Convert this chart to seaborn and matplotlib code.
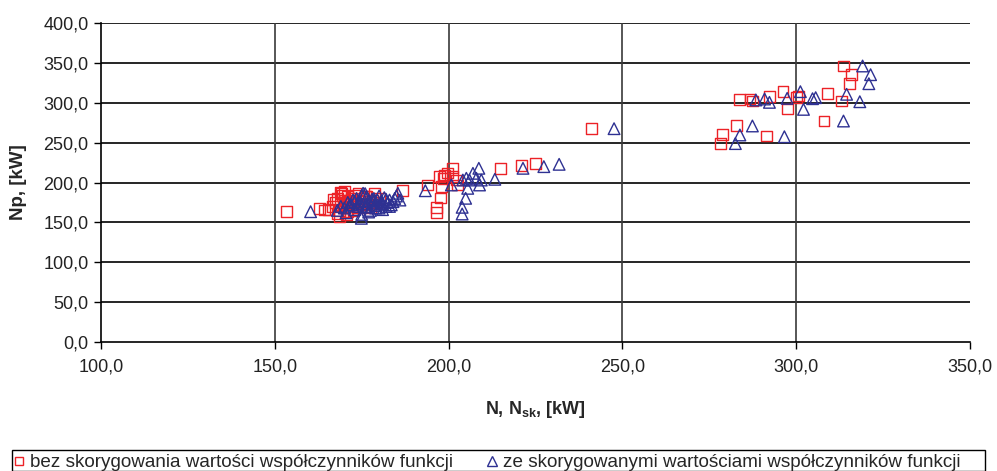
import numpy as np
import pandas as pd
import matplotlib
matplotlib.use("Agg")
import matplotlib.pyplot as plt
from matplotlib.lines import Line2D
from matplotlib.patches import Rectangle
import seaborn as sns

# ---- data: red squares (bez skorygowania) ----
red_x = [153.4, 162.9, 164.4, 165.3, 166.8, 168.7, 169.2, 170.1, 178.7, 186.7,
         166.5, 167.5, 168, 168.5, 169, 169.5, 170, 170, 170.5, 171, 171, 171.5,
         172, 172, 172.5, 173, 173, 173.5, 174, 174.5, 175, 175.5, 176, 176.5,
         177, 178, 179, 180, 168, 170.5, 172.5, 174, 169, 171.5, 173.5, 176, 177.5,
         194.0, 197.6, 196.6, 196.6, 198.4, 201.2, 202.2, 197.9, 202.6, 199.7, 198.9, 197.4,
         201.1, 214.9, 220.9, 225.0, 241.2,
         283.7, 286.7, 287.5, 292.2, 296.2, 297.4, 300.1, 300.6, 309.0, 312.9,
         313.6, 315.9, 315.3, 308.0, 282.9, 278.9, 278.2, 291.4]
red_y = [163.4, 167.6, 165.5, 166.4, 178.1, 157.1, 186.5, 188.6, 186.5, 189.7,
         170, 175, 180, 165, 172, 184, 168, 178, 174, 182, 163, 176,
         170, 180, 166, 175, 184, 172, 178, 168, 180, 174, 176, 182,
         172, 178, 175, 180, 161, 160, 165, 186, 188, 177, 170, 183, 168,
         196.9, 180.6, 168.9, 162.2, 205.3, 207.3, 203.1, 194.7, 196.9, 211.9, 209.4, 207.3,
         218.2, 217.3, 221.9, 223.6, 267.5,
         303.5, 304.7, 302.2, 307.6, 313.9, 292.2, 306.8, 308.5, 311.4, 302.2,
         346.1, 335.2, 323.9, 277.1, 271.7, 260.0, 249.2, 258.3]

# ---- data: blue triangles (ze skorygowanymi) ----
blue_x = [160.3, 175.4, 185.4, 174.9,
          168, 169, 170, 171, 172, 172.5, 173, 173.5, 174, 174.5, 175, 175.5, 176, 176.5,
          177, 177.5, 178, 178.5, 179, 179.5, 180, 180.5, 181, 181.5, 182, 182.5, 183,
          183.5, 184, 184.5, 185, 186, 170.5, 171.5, 173, 175, 176, 177, 178, 179, 180,
          181, 182, 183, 174, 176.5, 178.5, 180.5,
          193.3, 200.8, 203.9, 203.9, 204.9, 205.5, 207.0, 208.7, 209.4, 208.9, 213.3,
          205.1, 206.0, 208.0, 204.1, 221.4, 227.4, 231.8, 247.6,
          288.4, 290.9, 292.3, 297.4, 301.2, 302.1, 304.7, 305.6, 314.5, 318.3,
          319.1, 321.4, 320.9, 313.6, 287.4, 283.8, 282.5, 296.6]
blue_y = [163.4, 186.5, 186.5, 155.1,
          165, 170, 168, 175, 172, 178, 166, 180, 170, 176, 184, 173, 169, 182,
          177, 165, 174, 180, 171, 178, 168, 176, 173, 181, 170, 175, 178,
          172, 176, 180, 183, 178, 162, 172, 176, 160, 186, 163, 179, 168, 183,
          166, 179, 170, 174, 170, 177, 173,
          189.7, 196.9, 168.9, 160.5, 180.2, 192.7, 211.5, 217.8, 203.1, 196.9, 204.0,
          205.3, 203.1, 205.3, 203.1, 217.8, 219.9, 222.8, 267.5,
          303.5, 304.7, 300.5, 305.5, 313.9, 291.7, 305.1, 306.4, 310.6, 301.3,
          346.1, 335.2, 323.9, 277.1, 270.9, 259.6, 248.8, 257.4]

x_ticks = [100, 150, 200, 250, 300, 350]
y_ticks = [0, 50, 100, 150, 200, 250, 300, 350, 400]
label_red = "bez skorygowania wartości współczynników funkcji"
label_blue = "ze skorygowanymi wartościami współczynników funkcji"

RED = "#ec2227"
BLUE = "#2e3192"

sns.set_style("white")
plt.rcParams['font.family'] = ['Liberation Sans', 'DejaVu Sans']
plt.rcParams['mathtext.fontset'] = 'custom'
plt.rcParams['mathtext.rm'] = 'Liberation Sans'
plt.rcParams['mathtext.bf'] = 'Liberation Sans:bold'

fig = plt.figure(figsize=(9.97, 4.71), dpi=100)
ax = fig.add_axes([101/997, 1-342/471, (970-101)/997, (342-23)/471])

df_r = pd.DataFrame({"x": red_x, "y": red_y})
df_b = pd.DataFrame({"x": blue_x, "y": blue_y})

sns.scatterplot(data=df_r, x="x", y="y", ax=ax, marker="s", s=62,
                color=RED, facecolor="none", edgecolor=RED, linewidth=1.0, zorder=3)
sns.scatterplot(data=df_b, x="x", y="y", ax=ax, marker="^", s=70,
                color=BLUE, facecolor="none", edgecolor=BLUE, linewidth=1.0, zorder=4)

ax.set_xlim(100, 350)
ax.set_ylim(0, 400)
ax.set_xticks(x_ticks)
ax.set_yticks(y_ticks)
fmt = lambda v: f"{v:.1f}".replace(".", ",")
ax.set_xticklabels([fmt(v) for v in x_ticks], fontsize=13)
ax.set_yticklabels([fmt(v) for v in y_ticks], fontsize=13)
ax.tick_params(axis="both", direction="out", length=5, width=1, color="black",
               labelcolor="#222222", pad=4, bottom=True, left=True)
ax.tick_params(axis="x", pad=7)

for v in y_ticks[1:]:
    ax.axhline(v, color="black", lw=1.2, zorder=1)
for v in x_ticks[1:-1]:
    ax.axvline(v, color="#3a3a3a", lw=1.2, zorder=1)

for s in ["top", "right"]:
    ax.spines[s].set_visible(False)
for s in ["left", "bottom"]:
    ax.spines[s].set_color("black")
    ax.spines[s].set_linewidth(1.2)

ax.set_xlabel(r"N, N$_{\mathbf{sk}}$, [kW]", fontsize=13, fontweight="bold", labelpad=17)
ax.set_ylabel("Np, [kW]", fontsize=13.5, fontweight="bold", labelpad=12)

handles = [Line2D([], [], ls="none", marker="s", ms=6, mfc="none", mec=RED, mew=1.0),
           Line2D([], [], ls="none", marker="^", ms=6.5, mfc="none", mec=BLUE, mew=1.0)]
leg = fig.legend(handles, [label_red, label_blue], loc="lower left",
                 bbox_to_anchor=(7.5/997, -6/471),
                 ncol=2, fontsize=13.6, frameon=False,
                 handlelength=0.6, handletextpad=0.3, borderpad=0.3,
                 columnspacing=1.75, borderaxespad=0)
fig.add_artist(Rectangle((12/997, 0.5/471), 973/997, 20.5/471, transform=fig.transFigure,
                         fill=False, edgecolor="black", linewidth=1.0))

fig.savefig("out.png", dpi=100)
